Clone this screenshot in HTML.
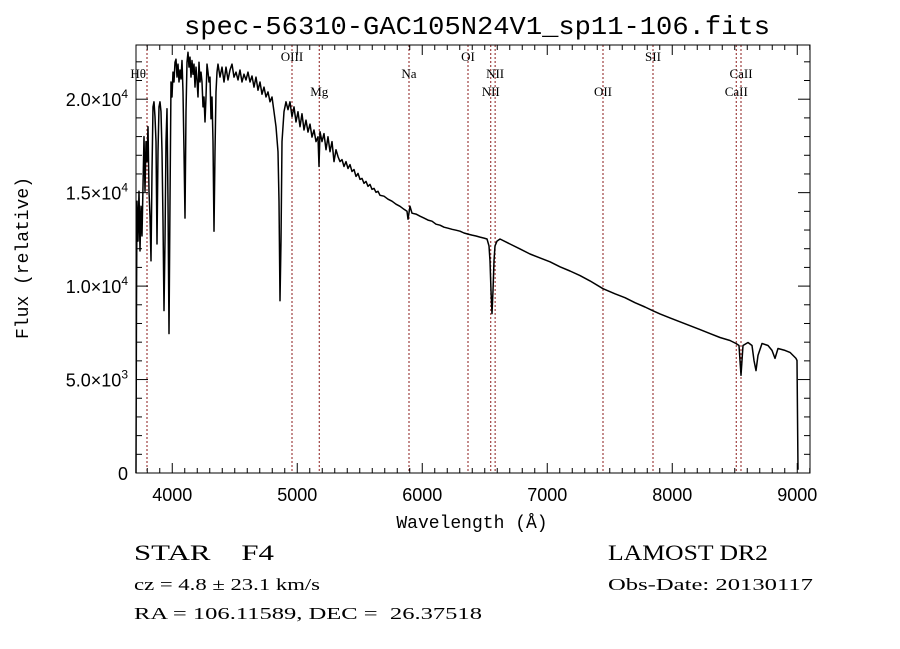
<!DOCTYPE html>
<html><head><meta charset="utf-8"><style>
body{margin:0;background:#fff;}
svg{display:block;}
.t{font-family:"Liberation Mono",monospace;fill:#000;}
.s{font-family:"Liberation Serif",serif;fill:#000;white-space:pre;}
.a{font-family:"Liberation Sans",sans-serif;fill:#000;}
</style></head><body>
<svg id="chart" width="900" height="649" viewBox="0 0 900 649" xmlns="http://www.w3.org/2000/svg">
<rect width="900" height="649" fill="#fff"/>
<text class="t" x="477" y="34" font-size="26" text-anchor="middle" textLength="586" lengthAdjust="spacingAndGlyphs">spec-56310-GAC105N24V1_sp11-106.fits</text>
<g id="lines"></g>
<g id="labels"></g>
<path id="spec" fill="none" stroke="#000" stroke-width="1.5" stroke-linejoin="round"/>
<rect x="136" y="45" width="674" height="428" fill="none" stroke="#000" stroke-width="1"/>
<g id="axes"></g>
<text class="t" x="472" y="528" font-size="18" text-anchor="middle">Wavelength (Å)</text>
<text class="t" x="28" y="258" font-size="18" text-anchor="middle" transform="rotate(-90 28 258)">Flux (relative)</text>
<text class="s" x="134" y="560" font-size="22" textLength="140" lengthAdjust="spacingAndGlyphs">STAR    F4</text>
<text class="s" x="608" y="560" font-size="22" textLength="160" lengthAdjust="spacingAndGlyphs">LAMOST DR2</text>
<text class="s" x="134" y="590" font-size="17" textLength="186" lengthAdjust="spacingAndGlyphs">cz = 4.8 ± 23.1 km/s</text>
<text class="s" x="608" y="590" font-size="17" textLength="205" lengthAdjust="spacingAndGlyphs">Obs-Date: 20130117</text>
<text class="s" x="134" y="619" font-size="17" textLength="348" lengthAdjust="spacingAndGlyphs">RA = 106.11589, DEC =  26.37518</text>
</svg>
<script>
const wavelengths=[3710,3714,3718,3726,3734,3742,3750,3758,3766,3774,3782,3790,3798,3806,3814,3822,3830,3838,3846,3854,3862,3870,3878,3886,3894,3902,3910,3918,3926,3934,3942,3950,3958,3966,3974,3982,3990,3998,4006,4014,4022,4030,4038,4046,4054,4062,4070,4078,4086,4094,4102,4110,4118,4126,4134,4142,4150,4158,4166,4174,4182,4190,4198,4206,4214,4222,4230,4238,4246,4254,4262,4270,4278,4286,4294,4302,4310,4318,4326,4334,4342,4350,4358,4366,4382,4398,4414,4430,4446,4462,4478,4494,4510,4526,4542,4558,4574,4590,4606,4622,4638,4654,4670,4686,4702,4718,4734,4750,4766,4782,4798,4814,4830,4846,4854,4862,4870,4878,4894,4910,4926,4942,4958,4974,4990,5006,5022,5038,5054,5070,5086,5102,5118,5134,5150,5166,5174,5182,5198,5214,5230,5246,5262,5278,5294,5310,5326,5342,5358,5374,5390,5406,5422,5438,5454,5470,5486,5502,5518,5534,5550,5566,5582,5598,5614,5630,5646,5662,5694,5726,5758,5790,5822,5854,5878,5886,5902,5918,5950,5982,6014,6046,6078,6110,6142,6174,6206,6238,6270,6302,6334,6366,6398,6430,6462,6494,6518,6534,6542,6550,6558,6566,6574,6582,6598,6622,6702,6782,6862,6942,7022,7102,7182,7262,7342,7446,7542,7622,7702,7782,7846,7902,7982,8062,8142,8222,8302,8382,8462,8510,8534,8550,8566,8606,8638,8654,8670,8686,8718,8766,8798,8822,8846,8902,8942,8990,8998,9006];
const fluxValues=[0,9200,14540,12410,15070,11880,14270,12680,15340,18000,15070,17730,16660,18530,15070,13740,11350,16130,19590,19860,19060,17730,12250,17190,19590,19860,19330,17190,13470,8690,12410,17730,19490,14540,7460,14540,20920,20120,21450,20920,21980,22140,21180,21880,20920,21560,21080,22070,20390,17190,13640,19330,21980,22510,21720,22250,21180,22070,21330,21880,20650,21720,21030,20120,21980,20920,21450,20920,19590,20120,18780,20120,21880,21450,20920,21180,18950,20120,17730,12940,17190,20390,21450,21880,21180,21720,20920,21720,21030,21560,21880,21180,21450,21030,21560,20920,21340,21030,21450,20920,21240,20650,21180,20480,20920,20270,20650,20120,20390,19860,20120,19330,18530,17190,14540,9220,12410,17730,19330,19860,19440,19860,19060,19590,18780,19330,18530,19220,18350,18880,18240,18670,17970,18350,17730,17990,16400,18260,17730,18160,17300,17990,17190,17730,16660,17300,16930,16660,16770,16400,16660,16290,16500,16130,16240,15870,16030,15710,15760,15500,15600,15340,15440,15180,15230,15020,15070,14860,14810,14650,14540,14380,14270,14110,14000,13580,14270,13900,13850,13740,13640,13530,13470,13310,13260,13150,13100,13040,12990,12940,12840,12780,12730,12680,12620,12570,12520,12150,11350,9750,8530,9750,11350,12150,12410,12520,12250,11990,11720,11510,11300,11030,10810,10560,10280,9860,9590,9380,9110,8880,8680,8510,8300,8090,7880,7670,7460,7250,7090,6930,6820,5230,6820,6980,6820,6020,5480,6290,6930,6820,6560,6130,6660,6560,6450,6130,6020,170];
const lineNames=["Hθ","OIII","Mg","Na","OI","NII","NII","OII","SII","CaII","CaII"];
const lineWaves=[3798,4958,5176,5894,6366,6548,6583,7446,7846,8512,8550];
const lineRows=[1,0,2,1,0,2,1,2,0,2,1];
const xTickValues=[4000,5000,6000,7000,8000,9000];
const xTickLabels=["4000","5000","6000","7000","8000","9000"];
const yTickValues=[0,5000,10000,15000,20000];
const yTickMant=["0","5.0","1.0","1.5","2.0"];
const yTickExp=["","3","4","4","4"];

const X0=136,X1=810,Y0=473,Y1=45,WMIN=3710,WMAX=9102,FMIN=0,FMAX=22900;
const sx=w=>X0+(w-WMIN)/(WMAX-WMIN)*(X1-X0);
const sy=f=>Y0-(f-FMIN)/(FMAX-FMIN)*(Y0-Y1);
const NS="http://www.w3.org/2000/svg";
function mk(tag,parent){const e=document.createElementNS(NS,tag);parent.appendChild(e);return e;}

let d="";
for(let i=0;i<wavelengths.length;i++){
  const x=Math.max(X0,Math.min(X1,sx(wavelengths[i]))),y=Math.max(Y1,sy(fluxValues[i]));
  d+=(i?"L":"M")+x.toFixed(1)+" "+y.toFixed(1);
}
document.getElementById("spec").setAttribute("d",d);

const gl=document.getElementById("lines"),glab=document.getElementById("labels");
const rowY=[61,78,96];
for(let i=0;i<lineWaves.length;i++){
  const x=sx(lineWaves[i]);
  const l=mk("line",gl);
  
  
  l.setAttribute("x1",x);l.setAttribute("x2",x);l.setAttribute("y1",Y1);l.setAttribute("y2",Y0);
  l.setAttribute("stroke","#8b1a1a");l.setAttribute("stroke-width","1");l.setAttribute("stroke-dasharray","2 2");
  const t=mk("text",glab);
  
  
  t.setAttribute("class","s");t.setAttribute("font-size","13");
  t.setAttribute("x",i===0?x-1:x);t.setAttribute("y",rowY[lineRows[i]]);
  t.setAttribute("text-anchor",i===0?"end":"middle");
  t.textContent=lineNames[i];
}

const ga=document.getElementById("axes");
function tick(x1,y1,x2,y2){const l=mk("line",ga);l.setAttribute("x1",x1);l.setAttribute("y1",y1);l.setAttribute("x2",x2);l.setAttribute("y2",y2);l.setAttribute("stroke","#000");l.setAttribute("stroke-width","1");
  
  }
for(let w=3800;w<=9100;w+=100){
  const x=sx(w),len=(w%1000===0)?10:5;
  tick(x,Y0,x,Y0-len);tick(x,Y1,x,Y1+len);
}
for(let f=1000;f<FMAX;f+=1000){
  const y=sy(f),len=(f%5000===0)?12:6;
  tick(X0,y,X0+len,y);tick(X1,y,X1-len,y);
}
for(let i=0;i<xTickValues.length;i++){
  const t=mk("text",ga);
  
  
  t.setAttribute("class","a");t.setAttribute("font-size","18");t.setAttribute("text-anchor","middle");
  t.setAttribute("x",sx(xTickValues[i]));t.setAttribute("y",Y0+28);t.textContent=xTickLabels[i];
}
for(let i=0;i<yTickValues.length;i++){
  const t=mk("text",ga);
  
  
  t.setAttribute("class","a");t.setAttribute("font-size","18");t.setAttribute("text-anchor","end");
  t.setAttribute("x",128);t.setAttribute("y",sy(yTickValues[i])+7);
  if(yTickExp[i]){
    t.textContent=yTickMant[i]+"×10";
    const s=mk("tspan",t);s.setAttribute("font-size","12");s.setAttribute("dy","-8");s.textContent=yTickExp[i];
  } else t.textContent=yTickMant[i];
}
</script>
</body></html>
